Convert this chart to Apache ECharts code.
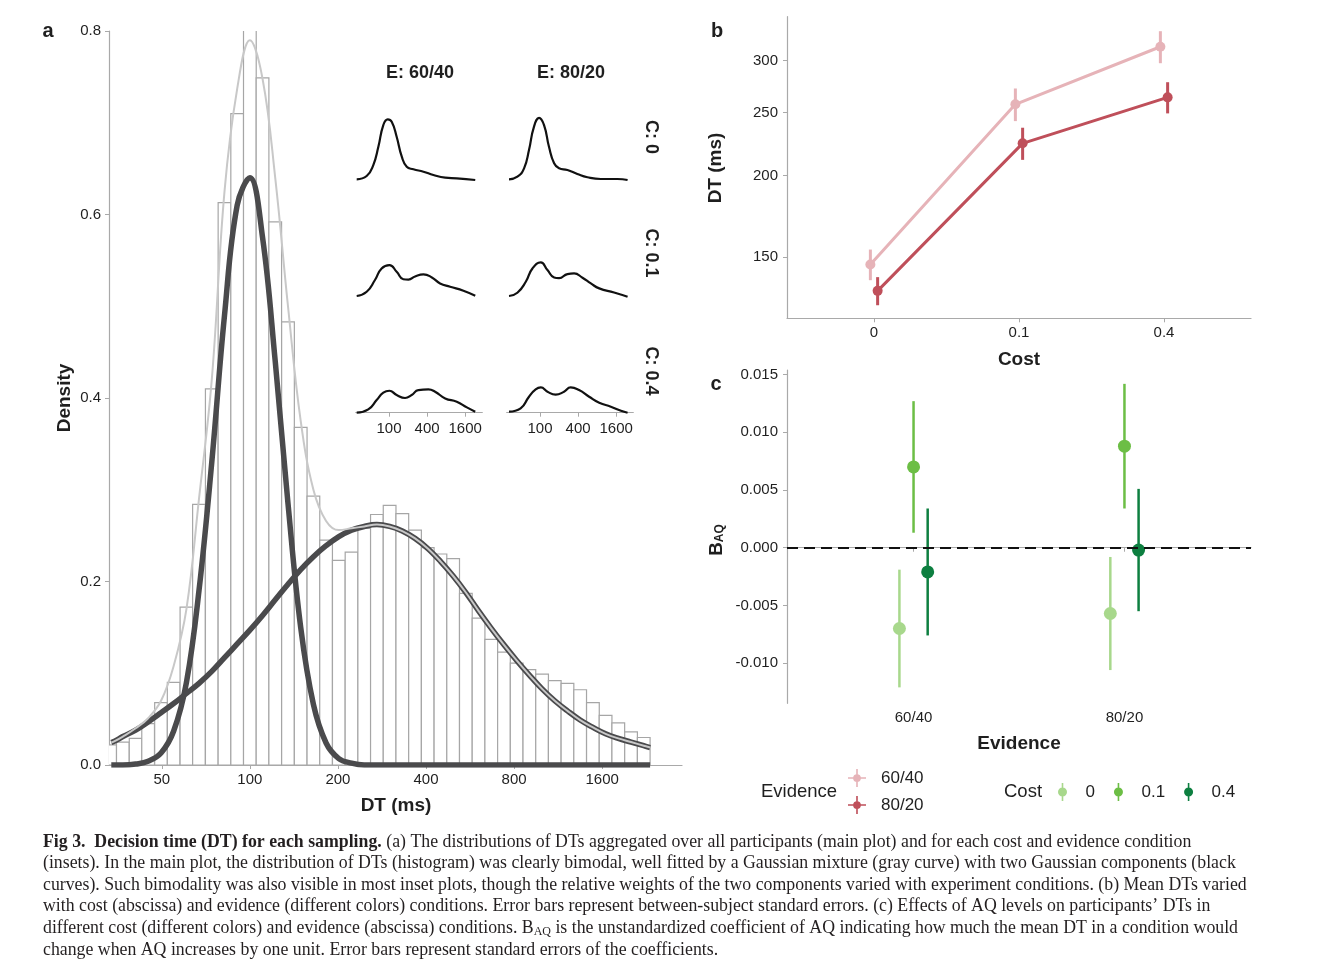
<!DOCTYPE html>
<html><head><meta charset="utf-8">
<script src="https://cdn.jsdelivr.net/npm/echarts@6/dist/echarts.min.js"></script>
<style>html,body{margin:0;padding:0;background:#fff}#c{width:1333px;height:961px}</style>
</head><body><div id="c"></div>
<script>
// ---------- Panel a: histogram of DTs (density on log-DT, bin width 0.1 in ln units) ----------
const histBinCentersMs = [33.3, 36.8, 40.7, 44.9, 49.7, 54.9, 60.7, 67.0, 74.1, 81.9, 90.5, 100, 110.5, 122.1, 135.0, 149.2, 164.9, 182.2, 201.4, 222.6, 246.0, 271.8, 300.4, 332.0, 366.9, 405.5, 448.2, 495.3, 547.4, 605.0, 668.6, 738.9, 816.6, 902.5, 997.4, 1102, 1218, 1346, 1488, 1644, 1817, 2009, 2220];
const histDensity = [0.022, 0.025, 0.029, 0.045, 0.068, 0.090, 0.172, 0.284, 0.410, 0.613, 0.710, 0.802, 0.749, 0.592, 0.483, 0.368, 0.293, 0.245, 0.223, 0.232, 0.258, 0.273, 0.283, 0.274, 0.256, 0.237, 0.230, 0.225, 0.187, 0.160, 0.137, 0.123, 0.111, 0.104, 0.099, 0.092, 0.089, 0.082, 0.068, 0.054, 0.046, 0.036, 0.030];
const histBinWidthLn = 0.1;

// fitted curves
const curveDtMs = [33.6, 34.5, 36.8, 40.7, 44.9, 49.7, 54.9, 60.7, 67.0, 74.1, 81.9, 90.5, 100, 110.5, 122.1, 135.0, 149.2, 164.9, 182.2, 201.4, 222.6, 246.0, 271.8, 300.4, 332.0, 366.9, 405.5, 448.2, 495.3, 547.4, 605.0, 668.6, 738.9, 816.6, 902.5, 997.4, 1102, 1218, 1346, 1488, 1644, 1817, 2009, 2220, 2334];
const narrowDensity = [0, 0, 0, 0.001, 0.004, 0.013, 0.037, 0.090, 0.190, 0.330, 0.490, 0.610, 0.640, 0.575, 0.440, 0.285, 0.150, 0.066, 0.024, 0.007, 0.002, 0, 0, 0, 0, 0, 0, 0, 0, 0, 0, 0, 0, 0, 0, 0, 0, 0, 0, 0, 0, 0, 0, 0, 0];
const wideDensity = [0.0245, 0.026, 0.031, 0.038, 0.047, 0.057, 0.067, 0.078, 0.089, 0.102, 0.117, 0.132, 0.147, 0.163, 0.180, 0.197, 0.213, 0.227, 0.239, 0.249, 0.256, 0.260, 0.262, 0.260, 0.255, 0.247, 0.236, 0.222, 0.206, 0.188, 0.168, 0.149, 0.131, 0.114, 0.098, 0.083, 0.070, 0.059, 0.049, 0.041, 0.034, 0.029, 0.025, 0.021, 0.019];
const mixtureDensity = [0.0245, 0.026, 0.031, 0.040, 0.051, 0.070, 0.108, 0.170, 0.290, 0.420, 0.625, 0.737, 0.790, 0.748, 0.640, 0.500, 0.375, 0.300, 0.266, 0.256, 0.258, 0.260, 0.262, 0.260, 0.255, 0.247, 0.236, 0.222, 0.206, 0.188, 0.168, 0.149, 0.131, 0.114, 0.098, 0.083, 0.070, 0.059, 0.049, 0.041, 0.034, 0.029, 0.025, 0.021, 0.019];
const mainXTicksMs = [50, 100, 200, 400, 800, 1600];
const mainXRangeMs = [33, 3000];

// insets: [DT ms, relative density]
const insetE6040C0  = [[30.8,0.01],[44.3,0.057],[56.4,0.214],[67.8,0.476],[81.2,0.786],[95.3,0.867],[110.2,0.833],[132,0.619],[159.1,0.333],[190.5,0.19],[242.8,0.153],[350.6,0.119],[502.8,0.071],[772.7,0.033],[1179,0.024],[2310,0]];
const insetE8020C0  = [[32.3,0.01],[43.8,0.047],[55.9,0.167],[66.9,0.429],[80.1,0.761],[96.6,0.89],[115.7,0.786],[138.5,0.476],[167,0.239],[200,0.167],[271.3,0.143],[389.1,0.086],[561.8,0.039],[912.7,0.014],[1680,0.014],[2425,0]];
const insetE6040C01 = [[30.8,0.01],[44.3,0.071],[59.9,0.239],[76.3,0.404],[101.4,0.453],[132,0.357],[168.2,0.25],[202.8,0.245],[258.5,0.29],[350.6,0.319],[475.7,0.276],[640.9,0.19],[925.4,0.143],[1503,0.086],[2310,0.014]];
const insetE8020C01 = [[32.3,0.01],[43.8,0.057],[59.5,0.214],[75.8,0.404],[102.8,0.49],[131.1,0.381],[167,0.275],[200,0.265],[271.3,0.324],[345.8,0.333],[469.2,0.271],[636.4,0.19],[863.4,0.119],[1483,0.061],[2425,0]];
const insetE6040C04 = [[30.8,0],[47,0.047],[63.7,0.181],[81.2,0.286],[101.4,0.314],[132,0.253],[179,0.21],[228.2,0.253],[290.8,0.324],[419.9,0.333],[535.2,0.30],[772.7,0.204],[1179,0.157],[1703,0.076],[2310,0.014]];
const insetE8020C04 = [[32.3,0.014],[49.3,0.061],[66.9,0.229],[85.3,0.333],[102.8,0.361],[131.1,0.30],[176.5,0.258],[239.5,0.30],[305.2,0.361],[414.1,0.324],[597.9,0.229],[863.4,0.143],[1318,0.086],[1903,0.029],[2425,0]];
const insetXTicksMs = [100, 400, 1600];
const insetXRangeMs = [29.7, 2986];

// ---------- Panel b: mean DT by cost and evidence ----------
const costLevels = ['0', '0.1', '0.4'];
const meanDt6040 = [146.1, 257.2, 315.2];
const seDt6040   = [7.9, 14.8, 17.8];
const meanDt8020 = [133.1, 224.1, 263.6];
const seDt8020   = [6.6, 12.7, 14.5];
const dtAxisTicks = [150, 200, 250, 300];
const dtAxisRangeMs = [120.8, 350.5];

// ---------- Panel c: B_AQ by evidence and cost ----------
const evidenceLevels = ['60/40', '80/20'];
const baqCost0   = [-0.0070, -0.0057];
const seCost0    = [0.0051, 0.0049];
const baqCost01  = [0.0070, 0.0088];
const seCost01   = [0.0057, 0.0054];
const baqCost04  = [-0.0021, -0.0002];
const seCost04   = [0.0055, 0.0053];
const baqTicks = [-0.010, -0.005, 0, 0.005, 0.010, 0.015];
const baqRange = [-0.01348, 0.0154];

// ---------- styling ----------
const FONT = 'Liberation Sans, Arial, sans-serif';
const SERIF = 'Liberation Serif, Times New Roman, serif';
const AX = '#a9a9a9';
const TXT = '#1f1f1f';
const PINK = '#E6B3B8', RED = '#BF4F5A';
const G0 = '#A8D88C', G1 = '#6CBE45', G4 = '#0D7F40';

const L2 = Math.log2, L10 = Math.log10;
const labelStyle = {fontSize: 15, color: TXT, fontFamily: FONT};

function axisCommon(show) {
  return {
    axisLine: {show: show, lineStyle: {color: AX, width: 1.2}},
    splitLine: {show: false}
  };
}

const grids = [
  {left: 109, top: 31, width: 573, height: 734},          // 0 main
  {left: 355.7, top: 110.1, width: 126.6, height: 72},    // 1 r0c0
  {left: 506.7, top: 110.1, width: 126.6, height: 72},    // 2 r0c1
  {left: 355.7, top: 226.8, width: 126.6, height: 72},    // 3
  {left: 506.7, top: 226.8, width: 126.6, height: 72},    // 4
  {left: 355.7, top: 342.8, width: 126.6, height: 72},    // 5
  {left: 506.7, top: 342.8, width: 126.6, height: 72},    // 6
  {left: 787, top: 16.7, width: 464, height: 301.6},      // 7 panel b
  {left: 787, top: 370, width: 464, height: 333.3}        // 8 panel c
];

const xAxes = [], yAxes = [];
// main
const mainTickVals = mainXTicksMs.map(L2);
xAxes.push(Object.assign({type: 'value', gridIndex: 0, min: L2(mainXRangeMs[0]), max: L2(mainXRangeMs[1]),
  axisTick: {show: true, customValues: mainTickVals, length: 4, lineStyle: {color: AX}},
  axisLabel: Object.assign({customValues: mainTickVals, margin: 7, formatter: v => String(Math.round(Math.pow(2, v)))}, labelStyle)
}, axisCommon(true)));
yAxes.push(Object.assign({type: 'value', gridIndex: 0, min: 0, max: 0.8, interval: 0.2,
  axisTick: {show: true, length: 4, lineStyle: {color: AX}},
  axisLabel: Object.assign({margin: 8, formatter: v => v.toFixed(1)}, labelStyle)
}, axisCommon(true)));
// insets
const insetTickVals = insetXTicksMs.map(L2);
for (let g = 1; g <= 6; g++) {
  const bottom = g >= 5;
  xAxes.push(Object.assign({type: 'value', gridIndex: g, min: L2(insetXRangeMs[0]), max: L2(insetXRangeMs[1]),
    axisTick: {show: bottom, customValues: insetTickVals, length: 4, lineStyle: {color: AX}},
    axisLabel: Object.assign({show: bottom, customValues: insetTickVals, margin: 7, formatter: v => String(Math.round(Math.pow(2, v)))}, labelStyle)
  }, axisCommon(bottom)));
  yAxes.push({type: 'value', gridIndex: g, min: -0.03, max: 1, show: false, splitLine: {show: false}});
}
// panel b
const bXVals = [1, 2, 3];
xAxes.push(Object.assign({type: 'value', gridIndex: 7, min: 0.4, max: 3.6,
  axisTick: {show: true, customValues: bXVals, length: 4, lineStyle: {color: AX}},
  axisLabel: Object.assign({customValues: bXVals, margin: 7, formatter: v => costLevels[Math.round(v) - 1]}, labelStyle)
}, axisCommon(true)));
const dtTickVals = dtAxisTicks.map(L10);
yAxes.push(Object.assign({type: 'value', gridIndex: 7, min: L10(dtAxisRangeMs[0]), max: L10(dtAxisRangeMs[1]),
  axisTick: {show: true, customValues: dtTickVals, length: 4, lineStyle: {color: AX}},
  axisLabel: Object.assign({customValues: dtTickVals, margin: 9, formatter: v => String(Math.round(Math.pow(10, v)))}, labelStyle)
}, axisCommon(true)));
// panel c
const cXVals = [1, 2];
xAxes.push(Object.assign({type: 'value', gridIndex: 8, min: 0.4, max: 2.6,
  axisTick: {show: true, customValues: cXVals, length: 4, lineStyle: {color: AX}},
  axisLabel: Object.assign({customValues: cXVals, margin: 7, formatter: v => evidenceLevels[Math.round(v) - 1]}, labelStyle)
}, axisCommon(true)));
yAxes.push(Object.assign({type: 'value', gridIndex: 8, min: baqRange[0], max: baqRange[1],
  axisTick: {show: true, customValues: baqTicks, length: 4, lineStyle: {color: AX}},
  axisLabel: Object.assign({customValues: baqTicks, margin: 9, formatter: v => v.toFixed(3)}, labelStyle)
}, axisCommon(true)));

const series = [];
// histogram
const halfBinLog2 = histBinWidthLn / Math.LN2 / 2;
series.push({
  type: 'custom', xAxisIndex: 0, yAxisIndex: 0, clip: true, z: 1,
  encode: {x: 0, y: 1},
  data: histBinCentersMs.map((m, i) => [L2(m), histDensity[i]]),
  renderItem: (params, api) => {
    const c = api.value(0), h = api.value(1);
    const p0 = api.coord([c - halfBinLog2, h]);
    const p1 = api.coord([c + halfBinLog2, 0]);
    return {type: 'rect', shape: {x: p0[0], y: p0[1], width: p1[0] - p0[0], height: p1[1] - p0[1]},
      style: {fill: '#ffffff', stroke: '#a6a6a6', lineWidth: 1.2}};
  }
});
function curve(vals, color, width, z) {
  return {type: 'line', xAxisIndex: 0, yAxisIndex: 0, z: z, smooth: 0.4, showSymbol: false, symbol: 'none',
    lineStyle: {color: color, width: width, cap: 'butt'}, data: curveDtMs.map((m, i) => [L2(m), vals[i]]), silent: true};
}
series.push(curve(narrowDensity, '#4a4a4c', 5.5, 2));
series.push(curve(wideDensity, '#4a4a4c', 5.5, 2));
series.push(curve(mixtureDensity, '#c8c8c8', 2, 3));
// insets
[insetE6040C0, insetE8020C0, insetE6040C01, insetE8020C01, insetE6040C04, insetE8020C04].forEach((arr, i) => {
  series.push({type: 'line', xAxisIndex: i + 1, yAxisIndex: i + 1, smooth: 0.5, showSymbol: false, symbol: 'none',
    lineStyle: {color: '#111', width: 2.2}, data: arr.map(p => [L2(p[0]), p[1]]), silent: true});
});

function errRenderer(width) {
  return (params, api) => {
    const x = api.value(0), lo = api.value(1), hi = api.value(2);
    const a = api.coord([x, lo]), b = api.coord([x, hi]);
    return {type: 'line', shape: {x1: a[0], y1: a[1], x2: b[0], y2: b[1]},
      style: {stroke: api.visual('color'), lineWidth: width}};
  };
}
// panel b
const bDodge = 0.025;
[['60/40', meanDt6040, seDt6040, PINK, -bDodge], ['80/20', meanDt8020, seDt8020, RED, bDodge]].forEach(([name, m, se, col, d]) => {
  series.push({type: 'line', name: name, xAxisIndex: 7, yAxisIndex: 7, z: 3, symbol: 'circle', symbolSize: 10,
    lineStyle: {color: col, width: 3}, itemStyle: {color: col, borderWidth: 0},
    data: m.map((v, i) => [i + 1 + d, L10(v)])});
  series.push({type: 'custom', name: name, xAxisIndex: 7, yAxisIndex: 7, z: 3, itemStyle: {color: col},
    encode: {x: 0, y: [1, 2]}, renderItem: errRenderer(3),
    data: m.map((v, i) => [i + 1 + d, L10(v - se[i]), L10(v + se[i])])});
});
// panel c
const cDodge = 0.067;
[['0', baqCost0, seCost0, G0, -cDodge], ['0.1', baqCost01, seCost01, G1, 0], ['0.4', baqCost04, seCost04, G4, cDodge]].forEach(([name, m, se, col, d], k) => {
  const s = {type: 'scatter', name: name, xAxisIndex: 8, yAxisIndex: 8, z: 4, symbol: 'circle', symbolSize: 13,
    itemStyle: {color: col, opacity: 1}, data: m.map((v, i) => [i + 1 + d, v])};
  if (k === 0) {
    s.markLine = {silent: true, symbol: 'none', z: 6, label: {show: false},
      lineStyle: {color: '#111', width: 2, type: [11, 6]}, data: [{yAxis: 0}]};
  }
  series.push(s);
  series.push({type: 'custom', name: name, xAxisIndex: 8, yAxisIndex: 8, z: 3, itemStyle: {color: col},
    encode: {x: 0, y: [1, 2]}, renderItem: errRenderer(2.5),
    data: m.map((v, i) => [i + 1 + d, v - se[i], v + se[i]])});
});

// legends
const crossIcon = 'path://M0,9.1L20,9.1L20,10.9L0,10.9Z M9.1,0L10.9,0L10.9,20L9.1,20Z M14.3,10A4.3,4.3 0 1,1 5.7,10A4.3,4.3 0 1,1 14.3,10Z';
const dotIcon = 'path://M4.2,0L5.8,0L5.8,18L4.2,18Z M9.5,9A4.5,4.5 0 1,1 0.5,9A4.5,4.5 0 1,1 9.5,9Z';
const legendText = {fontSize: 17, color: TXT, fontFamily: FONT, padding: [0, 0, 0, 10]};
const legends = [
  {orient: 'vertical', left: 848, top: 769, padding: 0, itemWidth: 18, itemHeight: 18, itemGap: 9, selectedMode: false,
    itemStyle: {borderWidth: 0}, textStyle: legendText,
    data: evidenceLevels.map(n => ({name: n, icon: crossIcon}))},
  {orient: 'horizontal', left: 1058, top: 783, padding: 0, itemWidth: 10, itemHeight: 18, itemGap: 19, selectedMode: false,
    itemStyle: {borderWidth: 0}, textStyle: Object.assign({}, legendText, {padding: [0, 0, 0, 13]}),
    data: costLevels.map(n => ({name: n, icon: dotIcon}))}
];

// texts
function T(x, y, text, o) {
  o = o || {};
  return {type: 'text', x: x, y: y, rotation: o.rot || 0, silent: true, z: 10,
    style: Object.assign({text: text, fill: o.color || TXT, fontSize: o.size || 19, fontWeight: o.weight || 'bold',
      fontFamily: o.family || FONT, align: o.align || 'center', verticalAlign: o.va || 'middle'}, o.extra || {})};
}
const R = Math.PI / 2;
const graphics = [
  T(48, 31, 'a', {size: 20}), T(717, 31, 'b', {size: 20}), T(716, 384, 'c', {size: 20}),
  T(65, 398, 'Density', {rot: R}), T(396, 806, 'DT (ms)'),
  T(420, 73, 'E: 60/40', {size: 18}), T(571, 73, 'E: 80/20', {size: 18}),
  T(651, 137, 'C: 0', {size: 18, rot: -R}), T(651, 253, 'C: 0.1', {size: 18, rot: -R}), T(651, 371, 'C: 0.4', {size: 18, rot: -R}),
  T(716, 168, 'DT (ms)', {rot: R}), T(1019, 360, 'Cost'),
  T(716, 540, '{b|B}{s|AQ}', {rot: R, extra: {rich: {
    b: {fontSize: 19, fontWeight: 'bold', fontFamily: FONT, fill: TXT, lineHeight: 20, verticalAlign: 'bottom'},
    s: {fontSize: 12, fontWeight: 'bold', fontFamily: FONT, fill: TXT, lineHeight: 12, verticalAlign: 'bottom'}}}}),
  T(1019, 744, 'Evidence'),
  T(799, 792, 'Evidence', {size: 18.5, weight: 'normal'}), T(1023, 792, 'Cost', {size: 18.5, weight: 'normal'})
];
const CAP = 17.8;
const capRich = {
  n: {fontSize: CAP, fontFamily: SERIF, fill: '#231f20', lineHeight: 20, verticalAlign: 'bottom'},
  b: {fontSize: CAP, fontFamily: SERIF, fontWeight: 'bold', fill: '#231f20', lineHeight: 20, verticalAlign: 'bottom'},
  s: {fontSize: 12, fontFamily: SERIF, fill: '#231f20', lineHeight: 13, verticalAlign: 'bottom'}
};
const captionLines = [
  '{b|Fig 3.  Decision time (DT) for each sampling.}{n| (a) The distributions of DTs aggregated over all participants (main plot) and for each cost and evidence condition}',
  '{n|(insets). In the main plot, the distribution of DTs (histogram) was clearly bimodal, well fitted by a Gaussian mixture (gray curve) with two Gaussian components (black}',
  '{n|curves). Such bimodality was also visible in most inset plots, though the relative weights of the two components varied with experiment conditions. (b) Mean DTs varied}',
  '{n|with cost (abscissa) and evidence (different colors) conditions. Error bars represent between-subject standard errors. (c) Effects of AQ levels on participants\u2019 DTs in}',
  '{n|different cost (different colors) and evidence (abscissa) conditions. B}{s|AQ}{n| is the unstandardized coefficient of AQ indicating how much the mean DT in a condition would}',
  '{n|change when AQ increases by one unit. Error bars represent standard errors of the coefficients.}'
];
captionLines.forEach((line, i) => {
  graphics.push({type: 'text', x: 43, y: 841 + i * 21.6, silent: true, z: 10,
    style: {text: line, rich: capRich, align: 'left', verticalAlign: 'middle', fontSize: CAP, fontFamily: SERIF, fill: '#231f20'}});
});

const chart = echarts.init(document.getElementById('c'), null, {renderer: 'canvas'});
chart.setOption({
  animation: false,
  backgroundColor: '#ffffff',
  grid: grids,
  xAxis: xAxes,
  yAxis: yAxes,
  legend: legends,
  series: series,
  graphic: graphics
});
</script></body></html>
